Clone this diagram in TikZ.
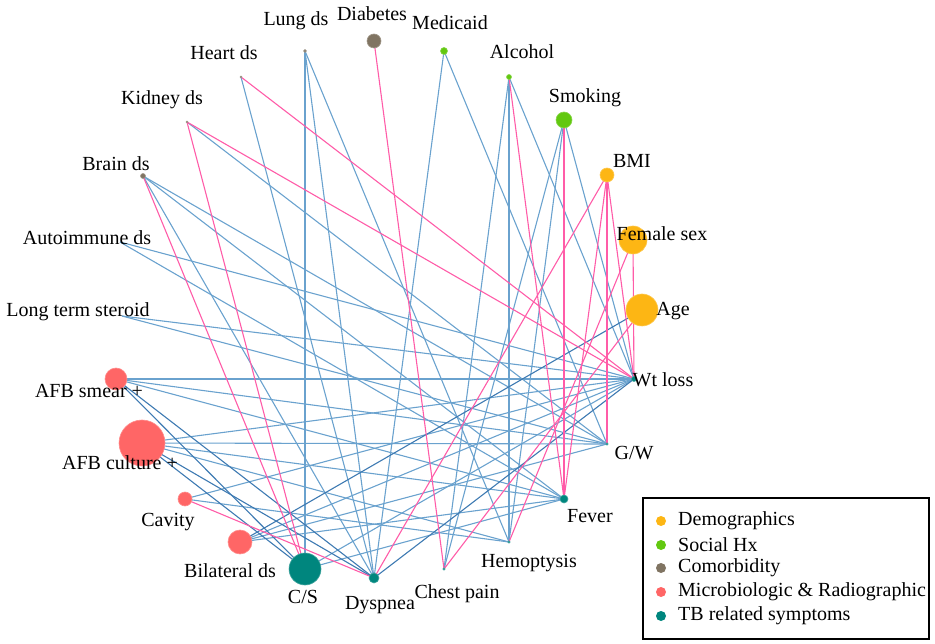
\documentclass[tikz,border=0pt]{standalone}
\usepackage{fontspec}
\setmainfont{Liberation Serif}
\pgfdeclarelayer{bg}
\pgfsetlayers{bg,main}
\definecolor{demo}{RGB}{253,182,20}
\definecolor{soc}{RGB}{98,200,16}
\definecolor{como}{RGB}{128,116,98}
\definecolor{micro}{RGB}{255,102,102}
\definecolor{tbs}{RGB}{0,134,126}
\definecolor{eblue}{RGB}{106,162,206}
\definecolor{edark}{RGB}{62,122,178}
\definecolor{epink}{RGB}{255,92,168}
\tikzset{
  vtx/.style 2 args={circle,fill=#1,draw=#1!75!white,line width=0.6pt,inner sep=0pt,minimum size=#2},
  lbl/.style={font=\fontsize{20}{22}\selectfont,inner sep=0pt,text=black},
  eb/.style={draw=eblue,line width=1.1pt},
  ed/.style={draw=edark,line width=1.1pt},
  ep/.style={draw=epink,line width=1.1pt},
}
\begin{document}
\begin{tikzpicture}[x=1pt,y=-1pt]
\useasboundingbox (0,0) rectangle (935,644);
% vertices
\node[vtx={como}{3pt}] (lung) at (305,51) {};
\node[vtx={como}{14pt}] (diab) at (374,41) {};
\node[vtx={soc}{7pt}] (medi) at (444,51) {};
\node[vtx={como}{2pt}] (heart) at (241,77) {};
\node[vtx={soc}{5pt}] (alco) at (509,77) {};
\node[vtx={como}{2pt}] (kidney) at (187,122) {};
\node[vtx={soc}{16pt}] (smok) at (564,120) {};
\node[vtx={como}{5pt}] (brain) at (143,176) {};
\node[vtx={demo}{14pt}] (bmi) at (607,175) {};
\coordinate (auto) at (120,242);
\node[vtx={demo}{28pt}] (fem) at (633,240) {};
\coordinate (ster) at (122,316);
\node[vtx={demo}{32pt}] (age) at (642,310) {};
\node[vtx={micro}{22pt}] (smear) at (116,379) {};
\node[vtx={tbs}{5pt}] (wt) at (634,379) {};
\node[vtx={micro}{46pt}] (cult) at (142,443) {};
\node[vtx={tbs}{2.4pt}] (gw) at (607,444) {};
\node[vtx={micro}{14pt}] (cav) at (185,499) {};
\node[vtx={tbs}{8pt}] (fever) at (564,499) {};
\node[vtx={micro}{24pt}] (bil) at (240,542) {};
\node[vtx={tbs}{2.4pt}] (hemo) at (509,542) {};
\node[vtx={tbs}{32pt}] (cs) at (305,569) {};
\node[vtx={tbs}{10pt}] (dysp) at (374,578) {};
\node[vtx={tbs}{2.4pt}] (chest) at (444,569) {};
% edges
\begin{pgfonlayer}{bg}
\foreach \a/\b in {lung/cs,lung/dysp,lung/hemo,medi/dysp,medi/gw,alco/chest,alco/hemo,alco/wt,
  smok/chest,smok/hemo,smok/wt,heart/dysp,kidney/gw,brain/dysp,brain/gw,brain/fever,
  auto/wt,auto/fever,ster/wt,ster/gw,smear/wt,smear/gw,smear/fever,cult/wt,cult/gw,cult/fever,
  cult/hemo,cav/wt,cav/hemo,bil/wt,bil/gw,bil/fever,cs/fever,cs/wt}
  \draw[eb] (\a.center) -- (\b.center);
\foreach \a/\b in {smear/cs,smear/dysp,cult/cs,cult/dysp,dysp/wt,bil/age}
  \draw[ed] (\a.center) -- (\b.center);
\foreach \a/\b in {diab/chest,alco/fever,smok/fever,bmi/dysp,bmi/fever,bmi/gw,bmi/wt,fem/hemo,
  fem/wt,heart/wt,kidney/cs,kidney/wt,brain/cs,cav/dysp,chest/age}
  \draw[ep] (\a.center) -- (\b.center);
\end{pgfonlayer}
% labels
\node[lbl] (tlung) at (296,21) {Lung ds};
\node[lbl] (tdiab) at (372,14) {Diabetes};
\node[lbl] (tmedi) at (450,23) {Medicaid};
\node[lbl] (theart) at (224,53) {Heart ds};
\node[lbl] (talco) at (522,52) {Alcohol};
\node[lbl] (tkid) at (162,100) {Kidney ds};
\node[lbl] (tsmok) at (585,98) {Smoking};
\node[lbl] (tbrain) at (116,164) {Brain ds};
\node[lbl] (tbmi) at (632,161) {BMI};
\node[lbl] (tauto) at (87,238) {Autoimmune ds};
\node[lbl] (tfem) at (662,234) {Female sex};
\node[lbl] (tster) at (78,312) {Long term steroid};
\node[lbl] (tage) at (673,311) {Age};
\node[lbl] (tsmear) at (89,391) {AFB smear +};
\node[lbl] (twt) at (663,380) {Wt loss};
\node[lbl] (tcult) at (120,463) {AFB culture +};
\node[lbl] (tgw) at (634,453) {G/W};
\node[lbl] (tcav) at (168,522) {Cavity};
\node[lbl] (tfever) at (590,516) {Fever};
\node[lbl] (tbil) at (230,571) {Bilateral ds};
\node[lbl] (themo) at (529,563) {Hemoptysis};
\node[lbl] (tcs) at (303,597) {C/S};
\node[lbl] (tdysp) at (380,605) {Dyspnea};
\node[lbl] (tchest) at (457,594) {Chest pain};
% legend
\node[draw=black,line width=1.3pt,minimum width=286pt,minimum height=141pt,inner sep=0pt] (legend) at (786,568.5) {};
\foreach \c/\t/\yy [count=\i] in {demo/Demographics/521,soc/Social Hx/545,como/Comorbidity/568,micro/Microbiologic \& Radiographic/592,tbs/TB related symptoms/616}{
  \node[circle,fill=\c,inner sep=0pt,minimum size=10pt] (ld\i) at (661,\yy) {};
  \node[lbl,anchor=west] (lt\i) at (678,\yy) {\t};
}
\end{tikzpicture}
\end{document}
